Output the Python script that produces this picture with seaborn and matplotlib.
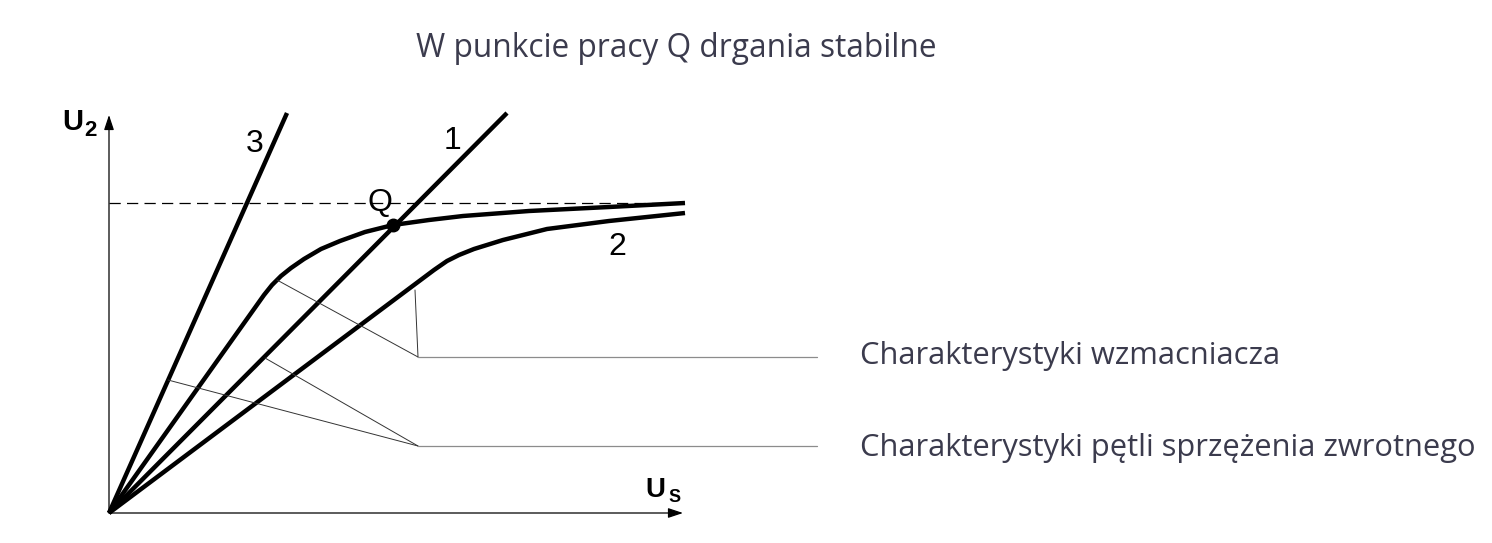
# Charakterystyki wzmacniacza i pętli sprzężenia zwrotnego - punkt pracy Q

import numpy as np
import pandas as pd
import matplotlib
matplotlib.use("Agg")
import matplotlib.pyplot as plt
import seaborn as sns

# proste sprzężenia zwrotnego (1 i 3)
line1_x = [0, 398]
line1_y = [0, 400]
line3_x = [0, 178]
line3_y = [0, 400]

# charakterystyki wzmacniacza (górna przez Q, dolna = 2)
amp_up_x = [0, 155, 163, 172, 182, 195, 212, 231, 256, 284, 320, 354, 420, 500, 576]
amp_up_y = [0, 218, 228, 237, 245, 254, 264, 272, 281, 288, 293, 297, 302, 306, 310]
amp_lo_x = [0, 325, 338, 350, 365, 394, 438, 500, 576]
amp_lo_y = [0, 243, 252, 258, 264, 273, 284, 292, 300]

# punkt pracy Q i poziom nasycenia
q_x, q_y = 284, 288
sat_level = 310
sat_end = 576

# osie
axis_x_len = 574
axis_y_len = 398

# linie odnośników
amp_ptr_x = [168, 309, 306]
amp_ptr_y = [233, 156, 223]
fb_ptr_x = [59, 309, 156]
fb_ptr_y = [133, 67, 155]
ptr_end = 708

txt_amp = "Charakterystyki wzmacniacza"
txt_fb = "Charakterystyki pętli sprzężenia zwrotnego"
title = "W punkcie pracy Q drgania stabilne"

sns.set_style("white")

fig = plt.figure(figsize=(14.92, 5.43), dpi=100)
ax = fig.add_axes([0, 0, 1, 1])
ax.set_xlim(-109, 1383)
ax.set_ylim(-30, 513)
ax.axis("off")

curves = pd.concat([
    pd.DataFrame({"x": line3_x, "y": line3_y, "k": "3"}),
    pd.DataFrame({"x": line1_x, "y": line1_y, "k": "1"}),
    pd.DataFrame({"x": amp_up_x, "y": amp_up_y, "k": "up"}),
    pd.DataFrame({"x": amp_lo_x, "y": amp_lo_y, "k": "2"}),
])
sns.lineplot(data=curves, x="x", y="y", units="k", estimator=None, sort=False,
             color="black", lw=3.2, ax=ax, solid_capstyle="butt",
             solid_joinstyle="round")

# przerywana linia nasycenia
ax.plot([0, sat_end], [sat_level, sat_level], color="black", lw=0.9,
        linestyle=(0, (9, 5)))

# punkt Q
ax.plot([q_x], [q_y], "o", color="black", ms=9)

# osie ze strzałkami
arr = dict(arrowstyle="-|>,head_length=0.6,head_width=0.2", color="black",
           lw=0.9, mutation_scale=15, shrinkA=0, shrinkB=0)
ax.annotate("", xy=(0, axis_y_len), xytext=(0, 0), arrowprops=arr)
ax.annotate("", xy=(axis_x_len, 0), xytext=(0, 0), arrowprops=arr)

# odnośniki
ax.plot(amp_ptr_x[:2], amp_ptr_y[:2], color="#333333", lw=0.7)
ax.plot(amp_ptr_x[1:], amp_ptr_y[1:], color="#333333", lw=0.7)
ax.plot([amp_ptr_x[1], ptr_end], [amp_ptr_y[1]] * 2, color="#8c8c8c", lw=0.9)
ax.plot(fb_ptr_x[:2], fb_ptr_y[:2], color="#333333", lw=0.7)
ax.plot(fb_ptr_x[1:], fb_ptr_y[1:], color="#333333", lw=0.7)
ax.plot([fb_ptr_x[1], ptr_end], [fb_ptr_y[1]] * 2, color="#8c8c8c", lw=0.9)

# etykiety
lab = dict(family="Liberation Sans", color="black", ha="center", va="center")
ax.text(146, 369, "3", fontsize=23, **lab)
ax.text(343, 372, "1", fontsize=23, **lab)
ax.text(508, 266, "2", fontsize=23, **lab)
ax.text(271, 310, "Q", fontsize=23, **lab)
ax.text(-36, 391, "U", fontsize=21, fontweight="bold", **lab)
ax.text(-19, 382, "2", fontsize=16, fontweight="bold", **lab)
ax.text(546, 23, "U", fontsize=20, fontweight="bold", **lab)
ax.text(566, 16, "S", fontsize=13, fontweight="bold", **lab)

opis = dict(family="Open Sans", color="#3b3b4d", fontsize=22.2, va="baseline")
ax.text(751, 149, txt_amp, ha="left", **opis)
ax.text(751, 57, txt_fb, ha="left", **opis)
ax.text(567, 456, title, ha="center", fontsize=22.8,
        **{k: v for k, v in opis.items() if k != "fontsize"})

fig.savefig("out.png", dpi=100)
